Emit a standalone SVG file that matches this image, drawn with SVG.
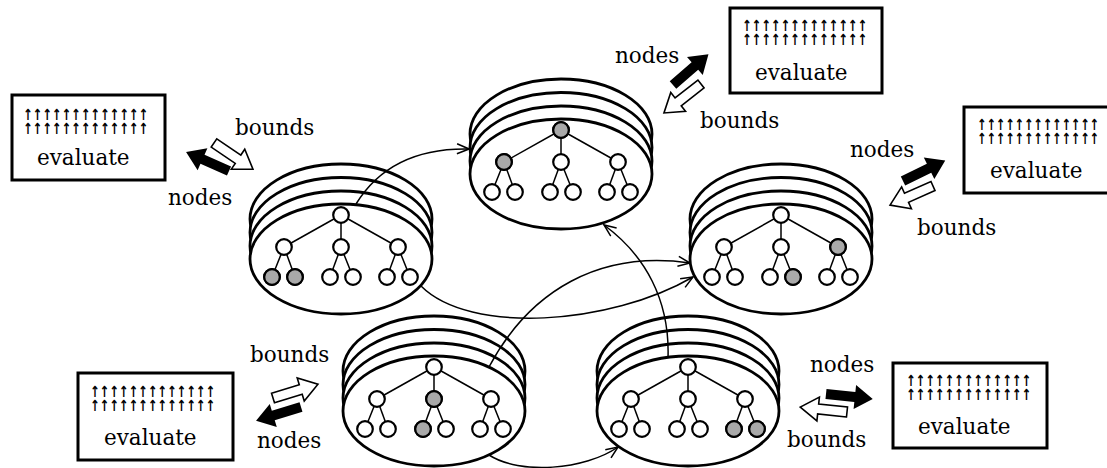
<svg xmlns="http://www.w3.org/2000/svg" xmlns:xlink="http://www.w3.org/1999/xlink" width="1107" height="468" viewBox="0 0 1107 468">
  <style>
    .ring { fill: #fff; stroke: #000; stroke-width: 2.8; }
    .edge { stroke: #000; stroke-width: 1.5; }
    .tn { fill: #fff; stroke: #000; stroke-width: 2.2; }
    .tn.hit { fill: #a9a9a9; }
    .box { fill: #fff; stroke: #000; stroke-width: 3; }
    .lbl { font-family: "DejaVu Serif", "Liberation Serif", serif; font-size: 21.5px; fill: #000; }
    .ups { font-family: "DejaVu Sans", sans-serif; font-weight: bold; font-size: 15.5px; fill: #000; }
    .link { fill: none; stroke: #000; stroke-width: 1.5; }
    .solid { fill: #000; }
    .hollow { fill: #fff; stroke: #000; stroke-width: 1.6; stroke-linejoin: miter; }
  </style>
  <defs>
    <marker id="open" viewBox="0 0 14 12" refX="13" refY="6" markerWidth="14" markerHeight="12" orient="auto" markerUnits="userSpaceOnUse">
      <path d="M1,1 L13,6 L1,11" fill="none" stroke="#000" stroke-width="1.5"/>
    </marker>
    <!-- block arrow pointing along +x, tail at origin -->
    <path id="blk" d="M0,-5 L29,-5 L29,-12 L47,0 L29,12 L29,5 L0,5 Z"/>
    <!-- stacked disk with a two-level tree, centred on the front disk -->
    <g id="stack">
      <ellipse class="ring" cx="0" cy="-40" rx="91" ry="55"/>
      <ellipse class="ring" cx="0" cy="-26.5" rx="91" ry="55"/>
      <ellipse class="ring" cx="0" cy="-13" rx="91" ry="55"/>
      <ellipse class="ring" cx="0" cy="0" rx="91" ry="55"/>
      <g class="edge">
        <line x1="0" y1="-44" x2="-57" y2="-12"/>
        <line x1="0" y1="-44" x2="0" y2="-12"/>
        <line x1="0" y1="-44" x2="57" y2="-12"/>
        <line x1="-57" y1="-12" x2="-69" y2="18"/>
        <line x1="-57" y1="-12" x2="-46" y2="18"/>
        <line x1="0" y1="-12" x2="-11" y2="18"/>
        <line x1="0" y1="-12" x2="12" y2="18"/>
        <line x1="57" y1="-12" x2="46" y2="18"/>
        <line x1="57" y1="-12" x2="69" y2="18"/>
      </g>
      <circle class="tn" cx="0" cy="-44" r="7.8"/>
      <circle class="tn" cx="-57" cy="-12" r="7.8"/>
      <circle class="tn" cx="0" cy="-12" r="7.8"/>
      <circle class="tn" cx="57" cy="-12" r="7.8"/>
      <circle class="tn" cx="-69" cy="18" r="7.8"/>
      <circle class="tn" cx="-46" cy="18" r="7.8"/>
      <circle class="tn" cx="-11" cy="18" r="7.8"/>
      <circle class="tn" cx="12" cy="18" r="7.8"/>
      <circle class="tn" cx="46" cy="18" r="7.8"/>
      <circle class="tn" cx="69" cy="18" r="7.8"/>
    </g>
  </defs>

  <rect width="1107" height="468" fill="#fff"/>

  <!-- search trees -->
  <g id="tree-left" transform="translate(341,259)">
    <use href="#stack"/>
    <circle class="tn hit" cx="-69" cy="18" r="7.8"/>
    <circle class="tn hit" cx="-46" cy="18" r="7.8"/>
  </g>
  <g id="tree-top" transform="translate(561,174)">
    <use href="#stack"/>
    <circle class="tn hit" cx="0" cy="-44" r="7.8"/>
    <circle class="tn hit" cx="-57" cy="-12" r="7.8"/>
  </g>
  <g id="tree-right" transform="translate(781,259)">
    <use href="#stack"/>
    <circle class="tn hit" cx="57" cy="-12" r="7.8"/>
    <circle class="tn hit" cx="12" cy="18" r="7.8"/>
  </g>
  <g id="tree-bottom-left" transform="translate(434,411)">
    <use href="#stack"/>
    <circle class="tn hit" cx="0" cy="-12" r="7.8"/>
    <circle class="tn hit" cx="-11" cy="18" r="7.8"/>
  </g>
  <g id="tree-bottom-right" transform="translate(688,411)">
    <use href="#stack"/>
    <circle class="tn hit" cx="46" cy="18" r="7.8"/>
    <circle class="tn hit" cx="69" cy="18" r="7.8"/>
  </g>

  <!-- evaluators -->
  <g id="eval-1">
    <rect class="box" x="12" y="95" width="153" height="85"/>
    <text class="ups" x="23" y="120" textLength="125" lengthAdjust="spacingAndGlyphs">↑↑↑↑↑↑↑↑↑↑↑↑↑</text>
    <text class="ups" x="23" y="134" textLength="125" lengthAdjust="spacingAndGlyphs">↑↑↑↑↑↑↑↑↑↑↑↑↑</text>
    <text class="lbl" x="37" y="165">evaluate</text>
  </g>
  <g id="eval-2">
    <rect class="box" x="730" y="8" width="152" height="85"/>
    <text class="ups" x="742" y="31" textLength="125" lengthAdjust="spacingAndGlyphs">↑↑↑↑↑↑↑↑↑↑↑↑↑</text>
    <text class="ups" x="742" y="45" textLength="125" lengthAdjust="spacingAndGlyphs">↑↑↑↑↑↑↑↑↑↑↑↑↑</text>
    <text class="lbl" x="755" y="80">evaluate</text>
  </g>
  <g id="eval-3">
    <rect class="box" x="964" y="107" width="153" height="86"/>
    <text class="ups" x="977" y="130" textLength="122" lengthAdjust="spacingAndGlyphs">↑↑↑↑↑↑↑↑↑↑↑↑↑</text>
    <text class="ups" x="977" y="144" textLength="122" lengthAdjust="spacingAndGlyphs">↑↑↑↑↑↑↑↑↑↑↑↑↑</text>
    <text class="lbl" x="990" y="178">evaluate</text>
  </g>
  <g id="eval-4">
    <rect class="box" x="78" y="373" width="155" height="87"/>
    <text class="ups" x="90" y="397" textLength="125" lengthAdjust="spacingAndGlyphs">↑↑↑↑↑↑↑↑↑↑↑↑↑</text>
    <text class="ups" x="90" y="411" textLength="125" lengthAdjust="spacingAndGlyphs">↑↑↑↑↑↑↑↑↑↑↑↑↑</text>
    <text class="lbl" x="104" y="445">evaluate</text>
  </g>
  <g id="eval-5">
    <rect class="box" x="893" y="363" width="154" height="85"/>
    <text class="ups" x="906" y="386" textLength="125" lengthAdjust="spacingAndGlyphs">↑↑↑↑↑↑↑↑↑↑↑↑↑</text>
    <text class="ups" x="906" y="400" textLength="125" lengthAdjust="spacingAndGlyphs">↑↑↑↑↑↑↑↑↑↑↑↑↑</text>
    <text class="lbl" x="918" y="434">evaluate</text>
  </g>

  <!-- node / bound exchange arrows and their labels -->
  <g id="exchange-1">
    <use href="#blk" class="solid" transform="translate(229,171) rotate(204)"/>
    <use href="#blk" class="hollow" transform="translate(214,143) rotate(34)"/>
    <text class="lbl" x="235" y="135">bounds</text>
    <text class="lbl" x="168" y="205">nodes</text>
  </g>
  <g id="exchange-2">
    <use href="#blk" class="solid" transform="translate(673,85) rotate(-41)"/>
    <use href="#blk" class="hollow" transform="translate(701,84) rotate(142)"/>
    <text class="lbl" x="615" y="63">nodes</text>
    <text class="lbl" x="700" y="128">bounds</text>
  </g>
  <g id="exchange-3">
    <use href="#blk" class="solid" transform="translate(903,181) rotate(-26)"/>
    <use href="#blk" class="hollow" transform="translate(933,186) rotate(156)"/>
    <text class="lbl" x="850" y="157">nodes</text>
    <text class="lbl" x="917" y="235">bounds</text>
  </g>
  <g id="exchange-4">
    <use href="#blk" class="hollow" transform="translate(273,398) rotate(-17)"/>
    <use href="#blk" class="solid" transform="translate(301,407) rotate(163)"/>
    <text class="lbl" x="250" y="362">bounds</text>
    <text class="lbl" x="257" y="448">nodes</text>
  </g>
  <g id="exchange-5">
    <use href="#blk" class="solid" transform="translate(826,394) rotate(6)"/>
    <use href="#blk" class="hollow" transform="translate(847,412) rotate(186)"/>
    <text class="lbl" x="810" y="372">nodes</text>
    <text class="lbl" x="787" y="447">bounds</text>
  </g>

  <!-- work transfers between trees -->
  <g id="connectors">
    <path class="link" marker-end="url(#open)" d="M356,204 C380,165 420,148 469,149"/>
    <path class="link" marker-end="url(#open)" d="M421,286 C470,335 610,325 693,277"/>
    <path class="link" marker-end="url(#open)" d="M489,367 C530,290 600,250 690,263"/>
    <path class="link" marker-end="url(#open)" d="M668,358 C670,300 645,255 604,225"/>
    <path class="link" marker-end="url(#open)" d="M489,455 C520,475 585,470 618,447"/>
  </g>
</svg>
